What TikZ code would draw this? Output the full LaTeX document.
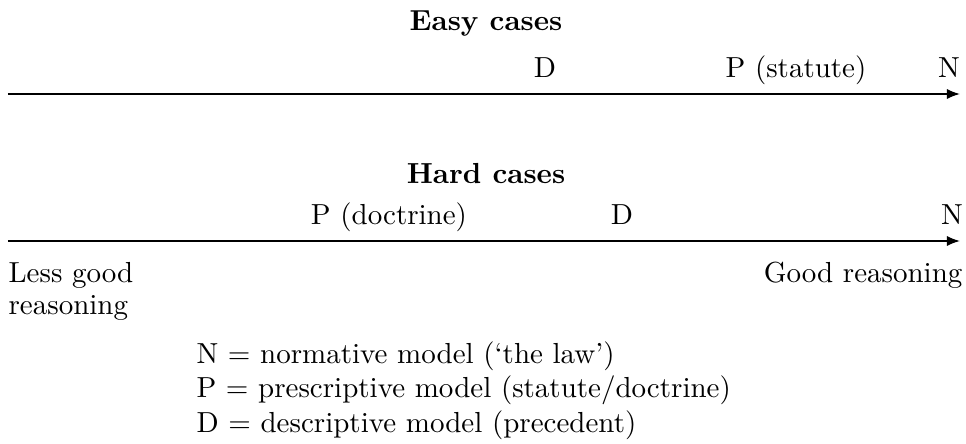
\documentclass[tikz,border=0pt]{standalone}
\usetikzlibrary{arrows.meta}
\begin{document}
\begin{tikzpicture}[x=0.3448pt,y=-0.3448pt,
  lbl/.style={inner sep=0pt,anchor=base},
  head/.style={inner sep=0pt,anchor=base,font=\bfseries},
  axis/.style={-{Latex[length=4.5pt,width=3.5pt]},line width=0.55pt}]
\useasboundingbox (0,0) rectangle (966,444);
% Easy cases
\node[head] (easy) at (486,31) {Easy cases};
\coordinate (a1s) at (8,94);
\coordinate (a1e) at (960,94);
\draw[axis] (a1s) -- (a1e);
\node[lbl] (eD) at (545,78) {D};
\node[lbl] (eP) at (796,78) {P (statute)};
\node[lbl] (eN) at (949,78) {N};
% Hard cases
\node[head] (hard) at (486,184) {Hard cases};
\coordinate (a2s) at (8,241);
\coordinate (a2e) at (960,241);
\draw[axis] (a2s) -- (a2e);
\node[lbl] (hP) at (389,225) {P (doctrine)};
\node[lbl] (hD) at (622,225) {D};
\node[lbl] (hN) at (952,225) {N};
% ends
\node[inner sep=0pt,anchor=base west] (less1) at (8,283) {Less good};
\node[inner sep=0pt,anchor=base west] (less2) at (8,315) {reasoning};
\node[inner sep=0pt,anchor=base east] (good) at (963,283) {Good reasoning};
% legend
\node[inner sep=0pt,anchor=base west] (l1) at (196,364) {N $=$ normative model (`the law')};
\node[inner sep=0pt,anchor=base west] (l2) at (196,398) {P $=$ prescriptive model (statute/doctrine)};
\node[inner sep=0pt,anchor=base west] (l3) at (196,433) {D $=$ descriptive model (precedent)};
\end{tikzpicture}
\end{document}
